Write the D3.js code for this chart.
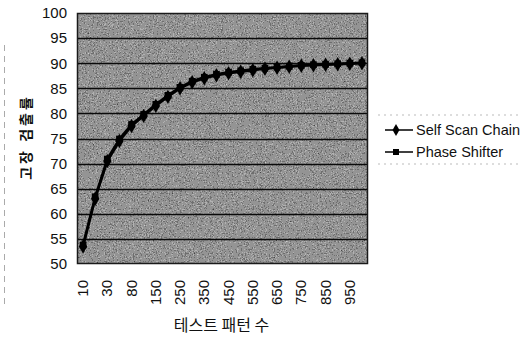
<!DOCTYPE html>
<html>
<head>
<meta charset="utf-8">
<script src="https://cdn.jsdelivr.net/npm/d3@7"></script>
<style>
  html, body { margin: 0; padding: 0; background: #fff; }
  svg { display: block; }
  text { font-family: "Liberation Sans", Arial, sans-serif; fill: #111; }
  .kr { font-family: "Noto Sans CJK KR", sans-serif; }
</style>
</head>
<body>
<svg id="chart" width="526" height="344"></svg>
<script>
// Number of test patterns (category axis)
const patterns = [10, 20, 30, 50, 80, 100, 150, 200, 250, 300, 350, 400, 450, 500,
                  550, 600, 650, 700, 750, 800, 850, 900, 950, 1000];
// Fault coverage (%) for each scheme
const selfScanChain = [53.5, 63.0, 70.5, 74.5, 77.5, 79.5, 81.5, 83.3, 85.0, 86.2, 87.0, 87.6,
                       88.0, 88.3, 88.6, 88.9, 89.1, 89.3, 89.5, 89.6, 89.7, 89.8, 89.9, 90.0];
const phaseShifter  = [53.8, 63.4, 70.9, 74.9, 77.8, 79.8, 81.8, 83.6, 85.2, 86.4, 87.2, 87.8,
                       88.2, 88.5, 88.8, 89.0, 89.2, 89.4, 89.6, 89.7, 89.8, 89.9, 90.0, 90.1];
const yTicks = [50, 55, 60, 65, 70, 75, 80, 85, 90, 95, 100];
const tickLabels = patterns.filter((d, i) => i % 2 === 0);

const svg = d3.select("#chart");
const plot = { left: 77, right: 368, top: 13, bottom: 264 };

const x = d3.scaleBand().domain(patterns).range([plot.left, plot.right]);
const y = d3.scaleLinear().domain([50, 100]).range([plot.bottom, plot.top]);

// grainy halftone fill for the plot area
const defs = svg.append("defs");
const grain = defs.append("filter").attr("id", "grain")
  .attr("x", 0).attr("y", 0).attr("width", "100%").attr("height", "100%");
grain.append("feTurbulence").attr("type", "fractalNoise")
  .attr("baseFrequency", 0.75).attr("numOctaves", 3).attr("seed", 7).attr("result", "n");
grain.append("feColorMatrix").attr("type", "matrix")
  .attr("values", "0.33 0.33 0.33 0 0  0.33 0.33 0.33 0 0  0.33 0.33 0.33 0 0  0 0 0 0 1");
const ct = grain.append("feComponentTransfer");
["feFuncR", "feFuncG", "feFuncB"].forEach(f =>
  ct.append(f).attr("type", "discrete").attr("tableValues", "0.02 0.06 0.16 0.3 0.45 0.62 0.85"));

svg.append("rect")
  .attr("x", plot.left).attr("y", plot.top)
  .attr("width", plot.right - plot.left).attr("height", plot.bottom - plot.top)
  .attr("fill", "#666").attr("filter", "url(#grain)");

// horizontal gridlines
svg.append("g").selectAll("line").data(yTicks.slice(1, -1)).join("line")
  .attr("x1", plot.left).attr("x2", plot.right)
  .attr("y1", d => Math.round(y(d)) + 0.5).attr("y2", d => Math.round(y(d)) + 0.5)
  .attr("stroke", "#0a0a0a").attr("stroke-width", 1.3);

svg.append("rect")
  .attr("x", plot.left + 0.5).attr("y", plot.top + 0.5)
  .attr("width", plot.right - plot.left - 1).attr("height", plot.bottom - plot.top - 1)
  .attr("fill", "none").attr("stroke", "#1a1a1a").attr("stroke-width", 1.5);

// y axis labels
const yAxis = d3.axisLeft(y).tickValues(yTicks).tickSize(0).tickPadding(10);
const gy = svg.append("g").attr("transform", `translate(${plot.left},0)`).call(yAxis);
gy.select(".domain").remove();
gy.selectAll("text").style("font-size", "15px").style("font-family", "'Liberation Sans', Arial, sans-serif")
  .attr("fill", "#111");

// x axis labels (every other category, rotated)
const xAxis = d3.axisBottom(x).tickValues(tickLabels).tickSize(0).tickPadding(0);
const gx = svg.append("g").attr("transform", `translate(0,${plot.bottom})`).call(xAxis);
gx.select(".domain").remove();
gx.selectAll("text")
  .style("font-size", "15px").style("font-family", "'Liberation Sans', Arial, sans-serif")
  .attr("fill", "#111")
  .attr("text-anchor", "end")
  .attr("dy", null)
  .attr("transform", "translate(5,16) rotate(-90)");

// series
const line = d3.line().x((d, i) => x(patterns[i]) + x.bandwidth() / 2).y(d => y(d));
const series = [
  { name: "Self Scan Chain", values: selfScanChain, symbol: d3.symbolDiamond },
  { name: "Phase Shifter", values: phaseShifter, symbol: d3.symbolSquare }
];
series.forEach(s => {
  svg.append("path").attr("d", line(s.values))
    .attr("fill", "none").attr("stroke", "#000").attr("stroke-width", 2.5);
  svg.append("g").selectAll("path").data(s.values).join("path")
    .attr("d", d3.symbol().type(s.symbol).size(s.symbol === d3.symbolSquare ? 45 : 60))
    .attr("transform", (d, i) => `translate(${x(patterns[i]) + x.bandwidth() / 2},${y(d)})`)
    .attr("fill", "#000");
});

// legend
const legend = svg.append("g");
series.forEach((s, i) => {
  const ly = 130 + i * 22;
  legend.append("line").attr("x1", 385).attr("x2", 413).attr("y1", ly).attr("y2", ly)
    .attr("stroke", "#000").attr("stroke-width", 1.5);
  legend.append("path").attr("d", d3.symbol().type(s.symbol).size(i ? 36 : 42))
    .attr("transform", `translate(396,${ly})`).attr("fill", "#000");
  legend.append("text").attr("x", 416).attr("y", ly + 5)
    .style("font-size", "14.5px")
    .text(s.name);
});
// faint legend frame (top and bottom edges)
[115, 164].forEach(ly => legend.append("line")
  .attr("x1", 378).attr("x2", 520).attr("y1", ly).attr("y2", ly)
  .attr("stroke", "#bbb").attr("stroke-width", 1).attr("stroke-dasharray", "2,4"));

// faint outer chart frame on the left
svg.append("line").attr("x1", 4.5).attr("x2", 4.5).attr("y1", 45).attr("y2", 305)
  .attr("stroke", "#aaa").attr("stroke-width", 1).attr("stroke-dasharray", "6,5");

// axis titles
svg.append("text").attr("class", "kr")
  .attr("x", (plot.left + plot.right) / 2 - 1).attr("y", 331)
  .attr("text-anchor", "middle").style("font-size", "16px")
  .text("테스트 패턴 수");

svg.append("text").attr("class", "kr")
  .attr("transform", "translate(31,137) rotate(-90)")
  .attr("text-anchor", "middle").style("font-size", "14px").style("font-weight", 700)
  .style("letter-spacing", "3px")
  .text("고장 검출률");
</script>
</body>
</html>
